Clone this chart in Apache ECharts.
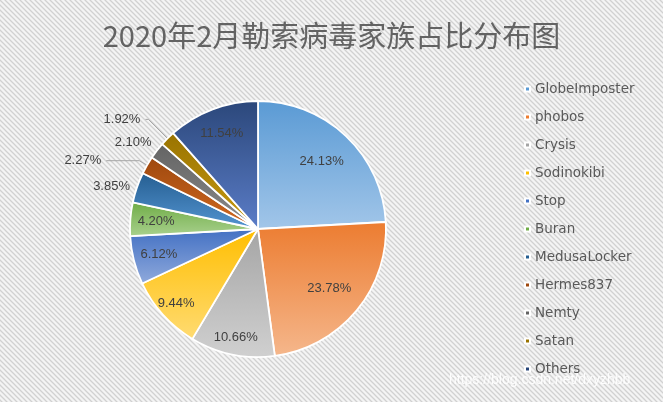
<!DOCTYPE html>
<html>
<head>
<meta charset="utf-8">
<script src="https://cdn.jsdelivr.net/npm/echarts@6/dist/echarts.min.js"></script>
<style>html,body{margin:0;padding:0;background:#fff}#c{width:663px;height:402px}</style>
</head>
<body>
<div id="c"></div>
<script>
// ---- data ----
const titleText = '2020年2月勒索病毒家族占比分布图';
const families = ['GlobeImposter','phobos','Crysis','Sodinokibi','Stop','Buran','MedusaLocker','Hermes837','Nemty','Satan','Others'];
const shares = [24.13, 23.78, 10.66, 9.44, 6.12, 4.20, 3.85, 2.27, 2.10, 1.92, 11.54];
const watermark = 'https://blog.csdn.net/dxyzhbb';

// ---- styles ----
const topColors =    ['#5A9AD4','#EC7C30','#A5A5A5','#FFBE00','#4270C3','#6FAC46','#255E91','#9E480E','#636363','#997300','#2B477A'];
const bottomColors = ['#A2C6E9','#F5B78C','#D0D0D0','#FFDB72','#90AADC','#A9D18E','#5495D2','#D26A22','#8C8C8C','#C89B12','#5B7DC8'];
const legendColors = ['#5B9BD5','#ED7D31','#A5A5A5','#FFC000','#4472C4','#70AD47','#255E91','#9E480E','#636363','#997300','#264478'];
const outsideIdx = [6,7,8,9];
const outsideLine = {6:{l:2,l2:0,show:false},7:{l:9,l2:33,show:true},8:{l:13,l2:-10,show:false},9:{l:27,l2:3,show:true}};
// inside-label groups: inner radius factor of the label ring
const labelRings = [{idx:[0,1], r0:0.40}, {idx:[2,3], r0:0.68}, {idx:[4,5,10], r0:0.55}];

function stripe(){
  const n=5, c=document.createElement('canvas'); c.width=n; c.height=n;
  const g=c.getContext('2d');
  g.fillStyle='#f4f4f4'; g.fillRect(0,0,n,n);
  g.strokeStyle='#d1d1d1'; g.lineWidth=1.3;
  g.beginPath();
  g.moveTo(-1,-1); g.lineTo(n+1,n+1);
  g.moveTo(-1,n-1); g.lineTo(1,n+1);
  g.moveTo(n-1,-1); g.lineTo(n+1,1);
  g.stroke();
  return c;
}

const chart = echarts.init(document.getElementById('c'), null, {renderer:'canvas'});
const CENTER = [258, 229], R = 128;
const labelFont = {fontFamily:'Liberation Sans', fontSize:13, color:'#404040'};
const pct = p => p.value.toFixed(2) + '%';

const mainData = families.map((n,i)=>{
  const isOut = outsideIdx.indexOf(i) >= 0;
  const item = {
    name:n, value:shares[i],
    itemStyle:{color:{type:'linear',x:0,y:0,x2:0,y2:1,colorStops:[{offset:0,color:topColors[i]},{offset:1,color:bottomColors[i]}]}}
  };
  if (isOut) {
    const o = outsideLine[i];
    item.label = Object.assign({show:true, position:'outside', distanceToLabelLine:5, formatter:pct}, labelFont);
    item.labelLine = {show:o.show, length:o.l, length2:o.l2, smooth:false, lineStyle:{color:'#a6a6a6', width:1}};
  } else {
    item.label = {show:false, position:'inside'};
    item.labelLine = {show:false};
  }
  return item;
});

const series = [{
  type:'pie', center:CENTER, radius:[0,R], startAngle:90, clockwise:true,
  avoidLabelOverlap:true,
  itemStyle:{borderColor:'#ffffff', borderWidth:1.8},
  data:mainData
}];
labelRings.forEach(ring=>{
  series.push({
    type:'pie', center:CENTER, radius:[R*ring.r0,R], startAngle:90, clockwise:true,
    silent:true, legendHoverLink:false,
    itemStyle:{color:'rgba(0,0,0,0)', borderWidth:0},
    label:Object.assign({position:'inside', formatter:pct}, labelFont),
    labelLine:{show:false},
    data:families.map((n,i)=>({name:n, value:shares[i], label:{show:ring.idx.indexOf(i)>=0}}))
  });
});

chart.setOption({
  backgroundColor:{image:stripe(), repeat:'repeat'},
  animation:false,
  title:{
    text:titleText, left:'center', top:16,
    textStyle:{fontFamily:'Noto Sans CJK SC', fontSize:29, fontWeight:'normal', color:'#636363'}
  },
  legend:{
    orient:'vertical', left:524, top:82, padding:0,
    itemWidth:5, itemHeight:5, itemGap:14, icon:'rect',
    data:families.map((n,i)=>({name:n, itemStyle:{color:legendColors[i]}})),
    textStyle:{fontFamily:'DejaVu Sans', fontSize:13.5, color:'#595959'}
  },
  graphic:[{
    type:'text', left:449, top:373, silent:true,
    style:{text:watermark, fill:'rgba(255,255,255,0.9)', font:'14px "Liberation Sans"', shadowColor:'rgba(0,0,0,0.08)', shadowBlur:1}
  }],
  series:series
});
</script>
</body>
</html>
